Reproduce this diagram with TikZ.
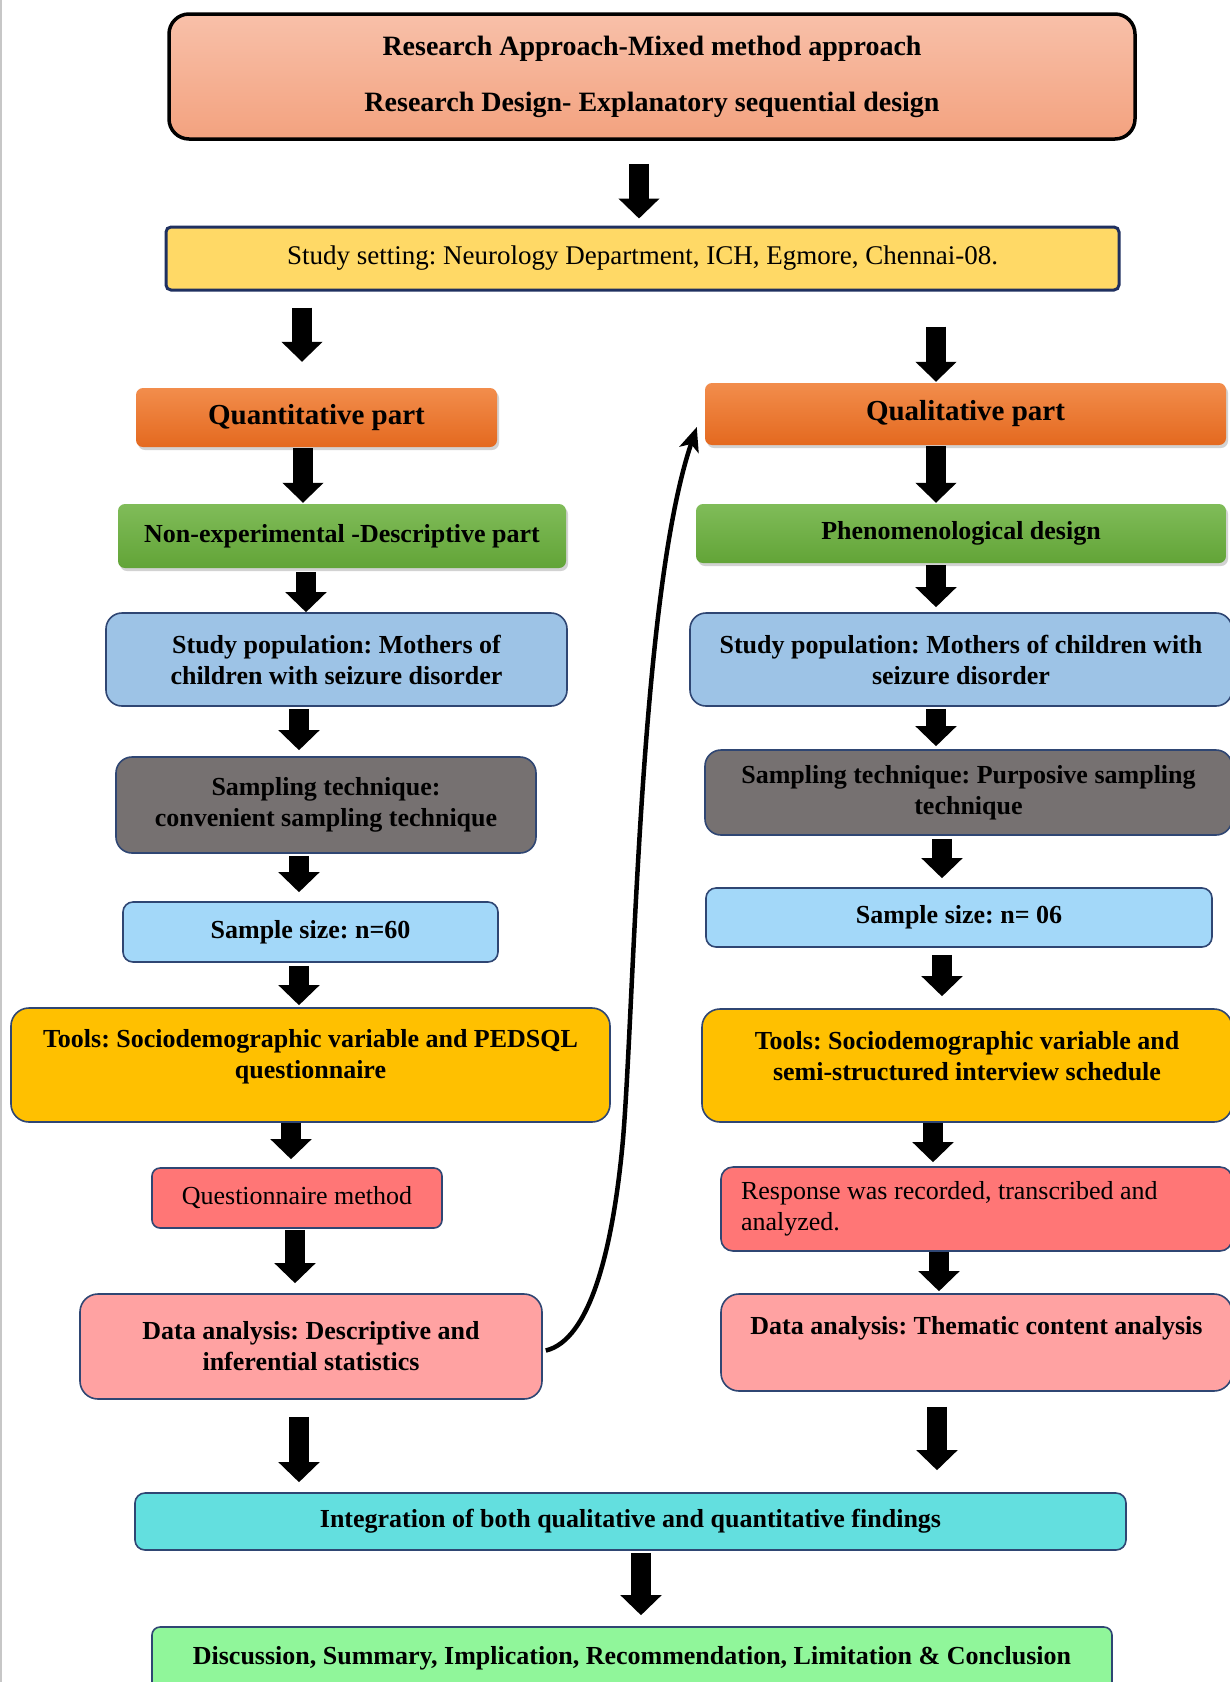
\documentclass[tikz,border=0pt]{standalone}
\usepackage{fontspec}
\setmainfont{Liberation Serif}
\frenchspacing
\usetikzlibrary{arrows.meta,shadows}
\definecolor{topA}{HTML}{F8C0A9}
\definecolor{topB}{HTML}{F3A27F}
\definecolor{setF}{HTML}{FFD966}
\definecolor{navy}{HTML}{1F3060}
\definecolor{orA}{HTML}{F28D4C}
\definecolor{orB}{HTML}{E4691F}
\definecolor{grA}{HTML}{80BC59}
\definecolor{grB}{HTML}{62A437}
\definecolor{popF}{HTML}{9DC3E6}
\definecolor{bord}{HTML}{2F4673}
\definecolor{grayF}{HTML}{767171}
\definecolor{sizeF}{HTML}{A3D8F9}
\definecolor{toolF}{HTML}{FFC000}
\definecolor{redF}{HTML}{FF7676}
\definecolor{pinkF}{HTML}{FFA2A2}
\definecolor{cyanF}{HTML}{63DFDF}
\definecolor{mintF}{HTML}{90F69A}
\begin{document}
\begin{tikzpicture}[x=1pt,y=-1pt,
  bx/.style={draw=bord, line width=1.6pt, rounded corners=12pt, inner sep=0pt, align=center, font=\bfseries\fontsize{26}{31}\selectfont},
  hd/.style={rounded corners=7pt, inner sep=0pt, align=center, drop shadow={opacity=0.35,shadow xshift=2pt,shadow yshift=-3pt}},
  blk/.style={line width=20pt, -{Triangle[width=40pt,length=20pt]}},
  cur/.style={line width=4.5pt, -{Stealth[length=24pt,width=20pt,inset=6pt]}}
]
\useasboundingbox (0,0) rectangle (1230,1682);
\fill[white] (0,0) rectangle (1230,1682);
\draw[line width=2.5pt, draw=black!22] (1.2,0) -- (1.2,1682);

% top
\node[draw=black, line width=3.5pt, rounded corners=20pt, inner sep=0pt, align=center,
  top color=topA, bottom color=topB, minimum width=966pt, minimum height=125pt,
  font=\bfseries\fontsize{28}{32}\selectfont] (top) at (652,76.5)
  {Research Approach-Mixed method approach\\[24pt]Research Design- Explanatory sequential design};
\node[draw=navy, line width=3pt, rounded corners=5pt, fill=setF, minimum width=953pt,
  minimum height=63pt, inner sep=0pt, font=\fontsize{27}{32}\selectfont] (set) at (642.5,258.5)
  {Study setting: Neurology Department, ICH, Egmore, Chennai-08.};

% headers
\node[hd, top color=orA, bottom color=orB, minimum width=361pt, minimum height=59pt,
  font=\bfseries\fontsize{29}{34}\selectfont] (quan) at (316.5,417.5) {Quantitative part};
\node[hd, top color=orA, bottom color=orB, minimum width=521pt, minimum height=62pt,
  font=\bfseries\fontsize{29}{34}\selectfont] (qual) at (965.5,414) {Qualitative part};
\node[hd, top color=grA, bottom color=grB, minimum width=448pt, minimum height=64pt,
  font=\bfseries\fontsize{26}{31}\selectfont] (nonexp) at (342,536) {Non-experimental -Descriptive part};
\node[hd, top color=grA, bottom color=grB, minimum width=530pt, minimum height=59pt,
  font=\bfseries\fontsize{26}{31}\selectfont] (pheno) at (961,533.5) {Phenomenological design};

% left column
\node[bx, fill=popF, rounded corners=16pt, minimum width=461pt, minimum height=93pt] (popL) at (336.5,659.5)
  {Study population: Mothers of\\children with seizure disorder};
\node[bx, fill=grayF, rounded corners=16pt, minimum width=420pt, minimum height=96pt] (sampL) at (326,805)
  {Sampling technique:\\convenient sampling technique};
\node[bx, fill=sizeF, rounded corners=10pt, minimum width=375pt, minimum height=60pt] (sizeL) at (310.5,932)
  {Sample size: n=60};
\node[bx, fill=toolF, rounded corners=18pt, minimum width=599pt, minimum height=114pt] (toolsL) at (310.5,1065)
  {\parbox[c][72pt][t]{580pt}{\centering Tools: Sociodemographic variable and PEDSQL\\questionnaire}};
\node[bx, fill=redF, rounded corners=8pt, minimum width=290pt, minimum height=60pt,
  font=\fontsize{26}{31}\selectfont] (qm) at (297,1198) {Questionnaire method};
\node[bx, fill=pinkF, rounded corners=18pt, minimum width=462pt, minimum height=105pt] (dataL) at (311,1346.5)
  {Data analysis: Descriptive and\\inferential statistics};

% right column
\node[bx, fill=popF, rounded corners=16pt, minimum width=542pt, minimum height=93pt] (popR) at (961,659.5)
  {Study population: Mothers of children with\\seizure disorder};
\node[bx, fill=grayF, rounded corners=16pt, minimum width=527pt, minimum height=85pt] (sampR) at (968.5,792.5)
  {Sampling technique: Purposive sampling\\technique};
\node[bx, fill=sizeF, rounded corners=10pt, minimum width=506pt, minimum height=59pt] (sizeR) at (959,917.5)
  {Sample size: n= 06};
\node[bx, fill=toolF, rounded corners=18pt, minimum width=530pt, minimum height=113pt] (toolsR) at (967,1065.5)
  {\parbox[c][69pt][t]{510pt}{\centering Tools: Sociodemographic variable and\\semi-structured interview schedule}};
\node[bx, fill=redF, rounded corners=12pt, text width=471pt, inner xsep=20pt, minimum height=84pt, align=flush left,
  font=\fontsize{26}{31}\selectfont] (resp) at (976.5,1209)
  {Response was recorded, transcribed and\\analyzed.};
\node[bx, fill=pinkF, rounded corners=18pt, minimum width=511pt, minimum height=97pt] (dataR) at (976.5,1342.5)
  {\parbox[c][53pt][t]{500pt}{\centering Data analysis: Thematic content analysis}};

% bottom
\node[bx, fill=cyanF, rounded corners=10pt, minimum width=991pt, minimum height=57pt] (integ) at (630.5,1521.5)
  {Integration of both qualitative and quantitative findings};
\node[bx, fill=mintF, rounded corners=8pt, minimum width=960pt, minimum height=63pt] (disc) at (632,1658.5)
  {Discussion, Summary, Implication, Recommendation, Limitation \& Conclusion};

% block arrows
\draw[blk, shorten <=23pt, shorten >=7pt] (top.south -| 639,0) -- (set.north -| 639,0);
\draw[blk, shorten <=16pt, shorten >=26pt] (set.south -| 302,0) -- (quan.north -| 302,0);
\draw[blk, shorten <=35pt, shorten >=1pt] (set.south -| 936,0) -- (qual.north -| 936,0);
\draw[blk, shorten <=1pt, shorten >=1pt] (quan.south -| 303,0) -- (nonexp.north -| 303,0);
\draw[blk, shorten <=1pt, shorten >=1pt] (qual.south -| 936,0) -- (pheno.north -| 936,0);
\draw[blk, shorten <=4pt, shorten >=0pt] (nonexp.south -| 306,0) -- (popL.north -| 306,0);
\draw[blk, shorten <=2pt, shorten >=5pt] (pheno.south -| 936,0) -- (popR.north -| 936,0);
\draw[blk, shorten <=2pt, shorten >=6pt] (popL.south -| 299,0) -- (sampL.north -| 299,0);
\draw[blk, shorten <=2pt, shorten >=3pt] (popR.south -| 936,0) -- (sampR.north -| 936,0);
\draw[blk, shorten <=2pt, shorten >=9pt] (sampL.south -| 299,0) -- (sizeL.north -| 299,0);
\draw[blk, shorten <=3pt, shorten >=9pt] (sampR.south -| 942,0) -- (sizeR.north -| 942,0);
\draw[blk, shorten <=3pt, shorten >=2pt] (sizeL.south -| 299,0) -- (toolsL.north -| 299,0);
\draw[blk, shorten <=7pt, shorten >=12pt] (sizeR.south -| 942,0) -- (toolsR.north -| 942,0);
\draw[blk, shorten <=0pt, shorten >=8pt] (toolsL.south -| 291,0) -- (qm.north -| 291,0);
\draw[blk, shorten <=0pt, shorten >=4pt] (toolsR.south -| 933,0) -- (resp.north -| 933,0);
\draw[blk, shorten <=1pt, shorten >=10pt] (qm.south -| 295,0) -- (dataL.north -| 295,0);
\draw[blk, shorten <=0pt, shorten >=2pt] (resp.south -| 939,0) -- (dataR.north -| 939,0);
\draw[blk, shorten <=17pt, shorten >=10pt] (dataL.south -| 299,0) -- (integ.north -| 299,0);
\draw[blk, shorten <=15pt, shorten >=22pt] (dataR.south -| 937,0) -- (integ.north -| 937,0);
\draw[blk, shorten <=2pt, shorten >=11pt] (integ.south -| 641,0) -- (disc.north -| 641,0);

% curved connector
\draw[cur] ([shift={(3,4)}]dataL.east) .. controls (590,1340) and (612,1250) .. (622,1150)
  .. controls (634,1030) and (638,600) .. ([shift={(-8,13)}]qual.west);
\end{tikzpicture}
\end{document}
